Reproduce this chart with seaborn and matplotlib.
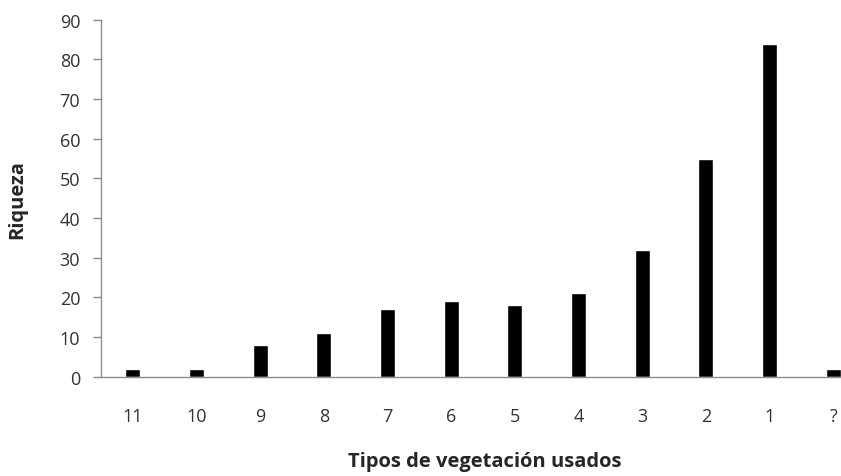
import pandas as pd
import seaborn as sns
import matplotlib.pyplot as plt

# Data
categorias = ["11", "10", "9", "8", "7", "6", "5", "4", "3", "2", "1", "?"]
riqueza = [2, 2, 8, 11, 17, 19, 18, 21, 32, 55, 84, 2]

df = pd.DataFrame({"Tipos": categorias, "Riqueza": riqueza})

sns.set_style("white")
plt.rcParams["font.family"] = ["Open Sans", "DejaVu Sans"]

fig = plt.figure(figsize=(8.41, 4.77), dpi=100)
# axes deliberately run past the right edge, like the original
ax = fig.add_axes([101 / 841, 99.3 / 477, 764 / 841, 357 / 477])

sns.barplot(data=df, x="Tipos", y="Riqueza", color="black", width=0.24,
            saturation=1, ax=ax)

ax.set_ylim(0, 90)
ax.set_xlim(-0.5, 11.5)
ax.set_yticks(range(0, 91, 10))

for s in ["top", "right"]:
    ax.spines[s].set_visible(False)
for s in ["left", "bottom"]:
    ax.spines[s].set_color("#8c8c8c")
    ax.spines[s].set_linewidth(1)

ax.tick_params(axis="y", length=6, width=1, color="#8c8c8c", pad=9,
               labelsize=13, labelcolor="#333333", left=True)
ax.tick_params(axis="x", length=0, pad=22, labelsize=13, labelcolor="#333333")

ax.set_ylabel("Riqueza", fontsize=14.5, fontweight="bold")
ax.set_xlabel("Tipos de vegetación usados", fontsize=14.5, fontweight="bold")
ax.xaxis.label.set_va("center")
ax.yaxis.label.set_va("center")
ax.xaxis.set_label_coords((485 - 101) / 764, -84 / 357)
ax.yaxis.set_label_coords((17 - 101) / 764, 0.5)

fig.savefig("out.png", dpi=100)
